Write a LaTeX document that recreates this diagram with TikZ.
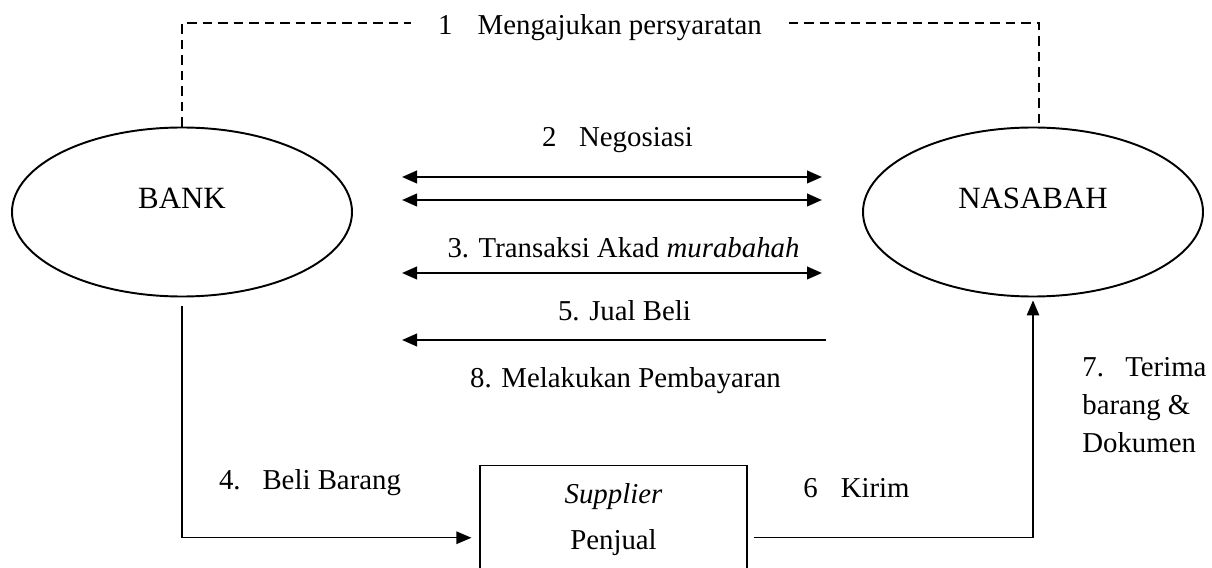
\documentclass[tikz,border=0pt]{standalone}
\usepackage{fontspec}
\setmainfont{Liberation Serif}
\usetikzlibrary{shapes.geometric,arrows.meta}

\begin{document}
\begin{tikzpicture}[
    font=\fontsize{16.4pt}{20pt}\selectfont,
    >={Triangle[length=0.3cm,width=0.25cm]},
    party/.style={ellipse, draw, line width=1.1pt, minimum height=3.38cm,
        font=\fontsize{17.6pt}{21pt}\selectfont, text depth=0.56cm},
    flow/.style={line width=1.4pt},
    thinflow/.style={line width=0.7pt},
    dashline/.style={line width=0.7pt, dash pattern=on 0.19cm off 0.12cm}
]
    % Frame
    \useasboundingbox (0,0) rectangle (24.24,11.34);
    \clip (0,0) rectangle (24.24,11.34);

    % Parties
    \node[party, minimum width=6.80cm] (bank) at (3.64,7.10) {BANK};
    \node[party, minimum width=6.80cm] (nasabah) at (20.66,7.10) {NASABAH};

    % Supplier box (runs past the bottom edge)
    \node[draw, line width=0.7pt, anchor=north, minimum width=5.34cm, inner ysep=0.36cm, align=center]
        (supplier) at (12.27,2.04) {\textit{Supplier}\\[0.22cm]Penjual};

    % Step 1 (dashed)
    \node[anchor=base, inner xsep=0.53cm] (req) at (12.00,10.64) {1\hspace{0.87em}Mengajukan persyaratan};
    \draw[dashline] (bank.north) |- ([yshift=0.1cm]req.west);
    \draw[dashline] ([yshift=0.1cm]req.east) -| ([xshift=0.12cm]nasabah.north);

    % Arrow ends between the two parties
    \foreach \n/\y/\r in {nega/7.80/16.44, negb/7.34/16.44, akad/5.88/16.44, jual/4.54/16.52} {
        \coordinate (\n-l) at (8.04,\y);
        \coordinate (\n-r) at (\r,\y);
    }
    \draw[flow, <->] (nega-l) -- (nega-r);
    \draw[flow, <->] (negb-l) -- (negb-r);
    \draw[flow, <->] (akad-l) -- (akad-r);
    \draw[flow, ->] (jual-r) -- (jual-l);

    % Labels
    \node[anchor=base] (neg) at (12.35,8.40) {2\hspace{0.78em}Negosiasi};
    \node[anchor=base] (akad) at (12.47,6.18) {3. Transaksi Akad \textit{murabahah}};
    \node[anchor=base] (jual) at (12.49,4.92) {5. Jual Beli};
    \node[anchor=base] (bayar) at (12.51,3.58) {8. Melakukan Pembayaran};
    \node[anchor=base] (beli) at (6.20,1.54) {4.\hspace{0.76em}Beli Barang};
    \node[anchor=base] (kirim) at (17.13,1.40) {6\hspace{0.8em}Kirim};
    \node[anchor=north west, inner sep=0pt, align=left, font=\fontsize{16.4pt}{21.6pt}\selectfont]
        (terima) at (21.64,4.19) {7.\hspace{0.74em}Terima\\barang \&\\Dokumen};

    % Purchase and delivery
    \draw[thinflow, ->] ([yshift=-0.18cm]bank.south) |- ([xshift=-0.16cm,yshift=-0.36cm]supplier.west);
    \draw[thinflow, ->] ([xshift=0.12cm,yshift=-0.36cm]supplier.east) -| ([yshift=-0.06cm]nasabah.south);
\end{tikzpicture}
\end{document}
